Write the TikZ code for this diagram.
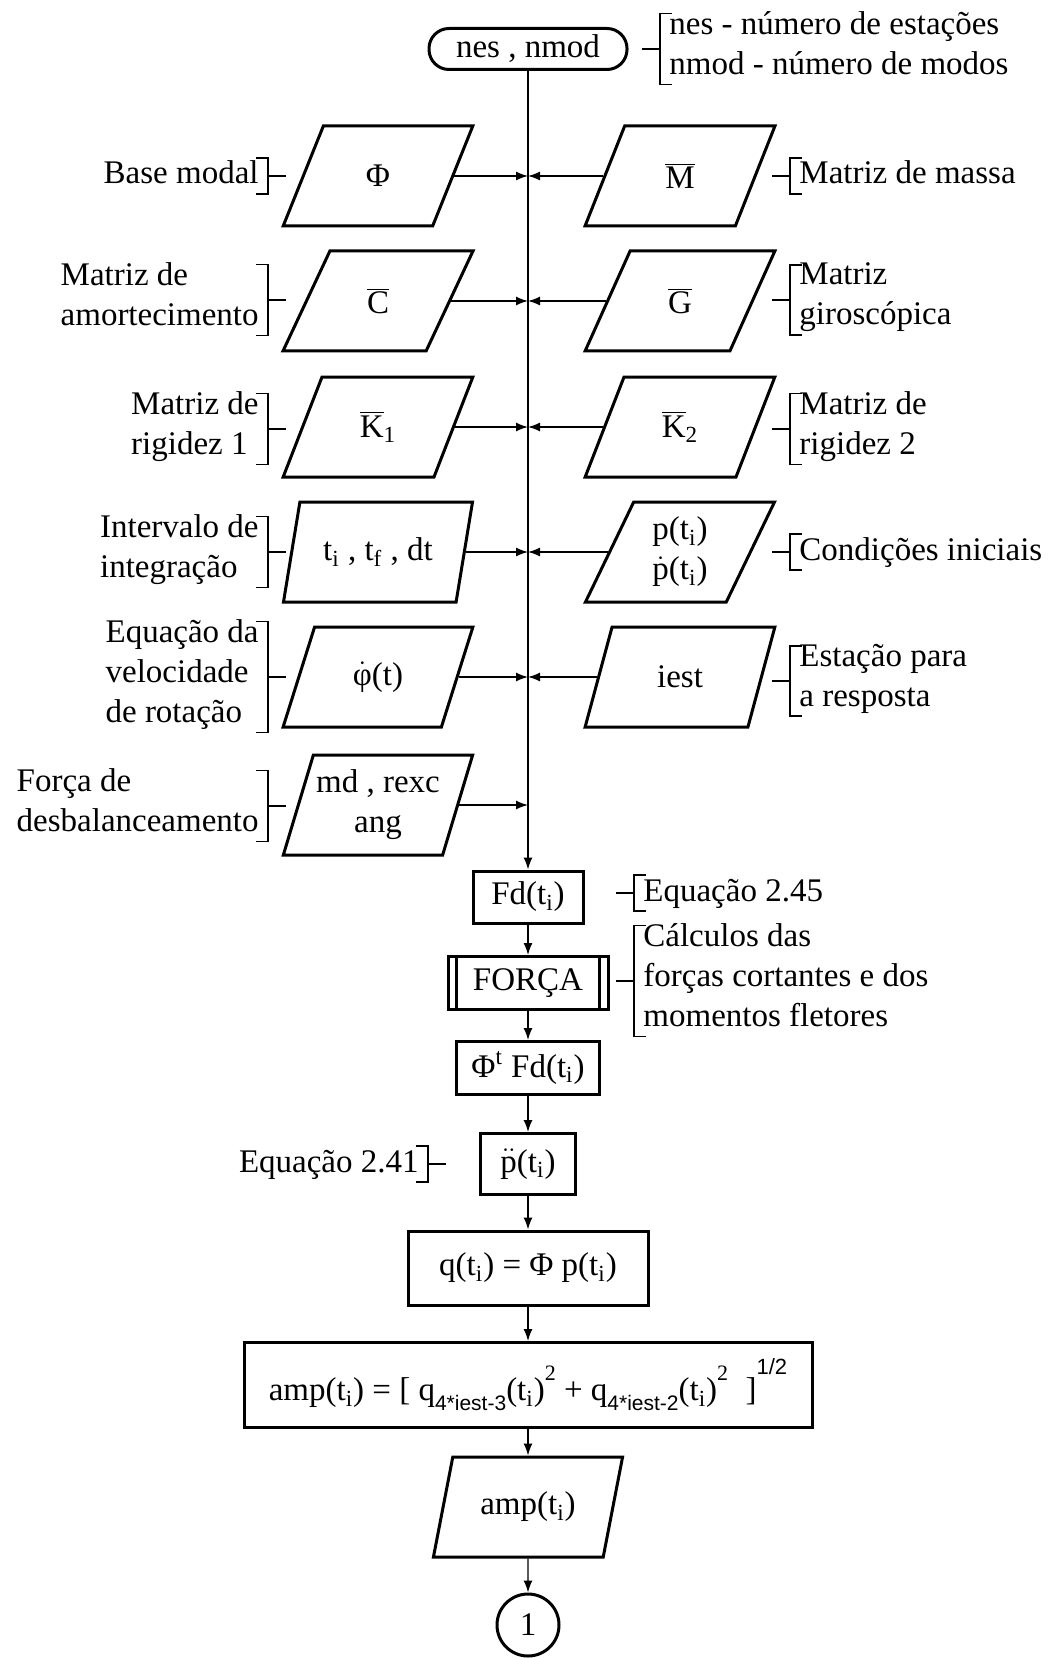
\documentclass[tikz,border=0pt]{standalone}
\usepackage{fontspec}
\setmainfont{Liberation Serif}
\newfontfamily\subsans{Liberation Sans}
\usetikzlibrary{shapes.geometric,arrows.meta,calc}

% bracket for a note placed left of a symbol: "]-"
\newcommand\noteL[1]{%
  \draw[ln] ([xshift=-6pt]#1.north east) -- (#1.north east) -- (#1.south east) -- ([xshift=-6pt]#1.south east);
  \draw[ln] (#1.east) -- ++(9pt,0);}
% bracket for a note placed right of a symbol: "-["
\newcommand\noteR[1]{%
  \draw[ln] ([xshift=6pt]#1.north west) -- (#1.north west) -- (#1.south west) -- ([xshift=6pt]#1.south west);
  \draw[ln] (#1.west) -- ++(-9pt,0);}
\newcommand\ti{t\textsubscript{i}}
\newcommand\sq{\raisebox{10pt}{\fontsize{11}{11}\selectfont 2}}
\newcommand\qsub[1]{q\raisebox{-5pt}{\subsans\fontsize{10.5}{10.5}\selectfont #1}}

\begin{document}
\begin{tikzpicture}[x=0.5pt,y=-0.5pt,
  every node/.style={font=\fontsize{16.5}{20}\selectfont, inner sep=0pt},
  ln/.style={line width=0.7pt},
  arr/.style={ln,-{Latex[length=6pt,width=4.5pt]}},
  box/.style={draw, line width=1.5pt},
  para/.style={box, trapezium, trapezium left angle=67.7, trapezium right angle=112.3,
    trapezium stretches=true, minimum width=95pt, minimum height=50pt, align=center},
  proc/.style={box, rectangle, align=center},
  term/.style={box, rectangle, rounded corners=10pt, minimum width=99pt, minimum height=20.5pt},
  lnote/.style={align=left, anchor=east, inner xsep=4.5pt, inner ysep=-1.25pt,
    execute at begin node=\strut, execute at end node=\strut},
  rnote/.style={align=left, anchor=west, inner xsep=4.5pt, inner ysep=-1.25pt,
    execute at begin node=\strut, execute at end node=\strut},
]
\fill[white] (0,0) rectangle (1058,1658);
\useasboundingbox (0,0) rectangle (1058,1658);

% start terminal
\node[term] (start) at (528,49) {nes , nmod};
\node[rnote] (n0) at (660,49) {nes - número de estações\\nmod - número de modos};
\noteR{n0}

% input data (left column)
\node[para] (phi) at (378,176) {Φ};
\node[para] (cc)  at (378,301) {$\overline{\mbox{C}}$};
\node[para] (k1)  at (378,427) {$\overline{\mbox{K}}$\textsubscript{1}};
\node[para] (tt)  at (378,552) {\ti\ , t\textsubscript{f} , dt};
\node[para] (om)  at (378,677) {$\dot{\mbox{φ}}$(t)};
\node[para] (md)  at (378,805) {md , rexc\\ang};

% input data (right column)
\node[para] (mm) at (680,176) {$\overline{\mbox{M}}$};
\node[para] (gg) at (680,301) {$\overline{\mbox{G}}$};
\node[para] (k2) at (680,427) {$\overline{\mbox{K}}$\textsubscript{2}};
\node[para] (p0) at (680,552) {p(\ti)\\$\dot{\mbox{p}}$(\ti)};
\node[para] (ie) at (680,677) {iest};

% notes on the inputs
\node[lnote] (l1) at (268,176) {Base modal};
\node[lnote] (l2) at (268,300) {Matriz de\\amortecimento};
\node[lnote] (l3) at (268,429) {Matriz de\\rigidez 1};
\node[lnote] (l4) at (268,552) {Intervalo de\\integração};
\node[lnote] (l5) at (268,677) {Equação da\\velocidade\\de rotação};
\node[lnote] (l6) at (268,806) {Força de\\desbalanceamento};
\foreach \n in {l1,l2,l3,l4,l5,l6} {\noteL{\n}}

\node[rnote] (r1) at (790,176) {Matriz de massa};
\node[rnote] (r2) at (790,300) {Matriz\\giroscópica};
\node[rnote] (r3) at (790,429) {Matriz de\\rigidez 2};
\node[rnote] (r4) at (790,552) {Condições iniciais};
\node[rnote] (r5) at (790,681) {Estação para\\a resposta};
\foreach \n in {r1,r2,r3,r4,r5} {\noteR{\n}}

% processing chain
\node[proc, minimum width=55pt, minimum height=26pt] (fd) at (528,897) {Fd(\ti)};
\node[proc, minimum width=80pt, minimum height=26.5pt] (fo) at (528,983) {FORÇA};
\draw[box] ([xshift=5pt]fo.north west) -- ([xshift=5pt]fo.south west)
           ([xshift=-5pt]fo.north east) -- ([xshift=-5pt]fo.south east);
\node[proc, minimum width=71.5pt, minimum height=26.5pt] (ft) at (528,1068) {Φ\textsuperscript{t} Fd(\ti)};
\node[proc, minimum width=47.5pt, minimum height=30.5pt] (pp) at (528,1164) {$\ddot{\mbox{p}}$(\ti)};
\node[proc, minimum width=120pt, minimum height=37pt] (qq) at (528,1268) {q(\ti) = Φ p(\ti)};
\node[proc, minimum width=284pt, minimum height=42.5pt] (am) at (528,1385)
  {amp(\ti) = [ \qsub{4*iest-3}(\ti)\sq{} + \qsub{4*iest-2}(\ti)\sq{} \;]\raisebox{13pt}{\subsans\fontsize{11}{11}\selectfont 1/2}};
\node[para] (out) at (528,1507) {amp(\ti)};
\node[box, circle, minimum size=31pt] (c1) at (528,1625) {1};

\node[rnote] (n45) at (634,893) {Equação 2.45};
\noteR{n45}
\node[rnote] (ncal) at (634,981) {Cálculos das\\forças cortantes e dos\\momentos fletores};
\noteR{ncal}
\node[lnote] (n41) at (428,1164) {Equação 2.41};
\noteL{n41}

% connectors
\draw[arr] (start) -- (fd);
\foreach \n in {phi,cc,k1,tt,om,md} {\draw[arr] (\n.east) -- (\n.east -| start.center);}
\foreach \n in {mm,gg,k2,p0,ie} {\draw[arr] (\n.west) -- (\n.west -| start.center);}
\draw[arr] (fd) -- (fo);
\draw[arr] (fo) -- (ft);
\draw[arr] (ft) -- (pp);
\draw[arr] (pp) -- (qq);
\draw[arr] (qq) -- (am);
\draw[arr] (am) -- (out);
\draw[arr] (out) -- (c1);
\end{tikzpicture}
\end{document}
